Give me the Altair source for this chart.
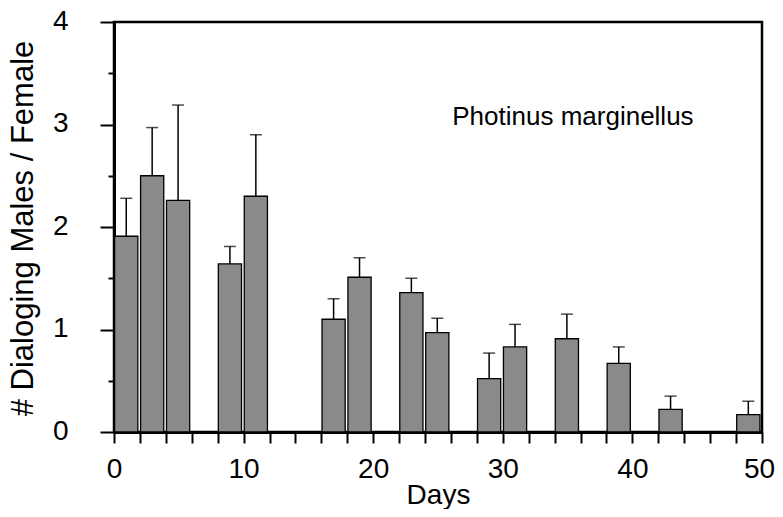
import altair as alt
import pandas as pd

# Data
bin_start = [0, 2, 4, 8, 10, 16, 18, 22, 24, 28, 30, 34, 38, 42, 48]
mean_ratio = [1.91, 2.50, 2.26, 1.64, 2.30, 1.10, 1.51, 1.36, 0.97, 0.52, 0.83, 0.91, 0.67, 0.22, 0.17]
upper_err = [2.28, 2.97, 3.19, 1.81, 2.90, 1.30, 1.70, 1.50, 1.11, 0.77, 1.05, 1.15, 0.83, 0.35, 0.30]
x_ticks = list(range(0, 51, 2))
y_ticks = [0, 0.5, 1, 1.5, 2, 2.5, 3, 3.5, 4]
species_label = ["Photinus marginellus"]
label_day = [26.1]
label_value = [3.0]

df = pd.DataFrame({"start": bin_start, "mean": mean_ratio, "upper": upper_err})
df["x0"] = df["start"] + 0.05
df["x1"] = df["start"] + 1.84
df["center"] = (df["x0"] + df["x1"]) / 2
df["zero"] = 0.0

FONT = "Liberation Sans"

xscale = alt.Scale(domain=[0, 50], nice=False, zero=False)
yscale = alt.Scale(domain=[0, 4], nice=False)

xaxis = alt.Axis(
    values=x_ticks,
    labelExpr="datum.value % 10 === 0 ? format(datum.value, 'd') : ''",
    labelOffset={"condition": {"test": "datum.value === 50", "value": -3}, "value": 0},
    tickSize=11, tickWidth=2, tickColor="black",
    domainWidth=3, domainColor="black",
    labelFontSize=28, labelFont=FONT, labelColor="black", labelPadding=12,
    labelFlush=False, labelOverlap=False, labelBound=False,
    title="Days", titleFontSize=28, titleFont=FONT, titleFontWeight="normal",
    titleColor="black", titleBaseline="alphabetic", titleY=71,
    grid=False,
)

yaxis = alt.Axis(
    values=y_ticks,
    labelExpr="datum.value % 1 === 0 ? format(datum.value, 'd') : ''",
    tickSize={"condition": {"test": "datum.value % 1 !== 0", "value": 6}, "value": 14},
    tickWidth=2, tickColor="black",
    domainWidth=3, domainColor="black",
    labelFontSize=28, labelFont=FONT, labelColor="black", labelPadding=32,
    labelBaseline="middle", labelOffset=-1,
    labelFlush=False, labelOverlap=False, labelBound=False,
    title="# Dialoging Males / Female", titleFontSize=31, titleFont=FONT,
    titleFontWeight="normal", titleColor="black",
    titleAngle=270, titleAlign="center", titleBaseline="alphabetic",
    titleX=-82, titleY=206,
    grid=False,
)

base = alt.Chart(df)

bars = base.mark_rect(fill="#8a8a8a", stroke="black", strokeWidth=1.3).encode(
    x=alt.X("x0:Q", scale=xscale, axis=xaxis),
    x2="x1:Q",
    y=alt.Y("mean:Q", scale=yscale, axis=yaxis),
    y2="zero:Q",
)

err = base.mark_rule(color="black", strokeWidth=1.5).encode(
    x=alt.X("center:Q", scale=xscale, axis=xaxis),
    y=alt.Y("mean:Q", scale=yscale, axis=yaxis),
    y2="upper:Q",
)

caps = base.mark_tick(color="black", orient="horizontal", size=12, thickness=1.5).encode(
    x=alt.X("center:Q", scale=xscale, axis=xaxis),
    y=alt.Y("upper:Q", scale=yscale, axis=yaxis),
)

ann_df = pd.DataFrame({"label": species_label, "day": label_day, "value": label_value})
ann = alt.Chart(ann_df).mark_text(
    align="left", baseline="alphabetic", fontSize=26, font=FONT, color="black"
).encode(
    x=alt.X("day:Q", scale=xscale, axis=xaxis),
    y=alt.Y("value:Q", scale=yscale, axis=yaxis),
    text="label:N",
)

chart = (
    alt.layer(bars, err, caps, ann)
    .properties(
        width=648,
        height=410,
        autosize=alt.AutoSizeParams(type="none"),
        padding={"left": 106, "top": 14, "right": 13, "bottom": 77},
        background="white",
    )
    .configure_view(stroke="black", strokeWidth=2.5)
)

chart.save("out.html", embed_options={"renderer": "svg", "actions": False})
